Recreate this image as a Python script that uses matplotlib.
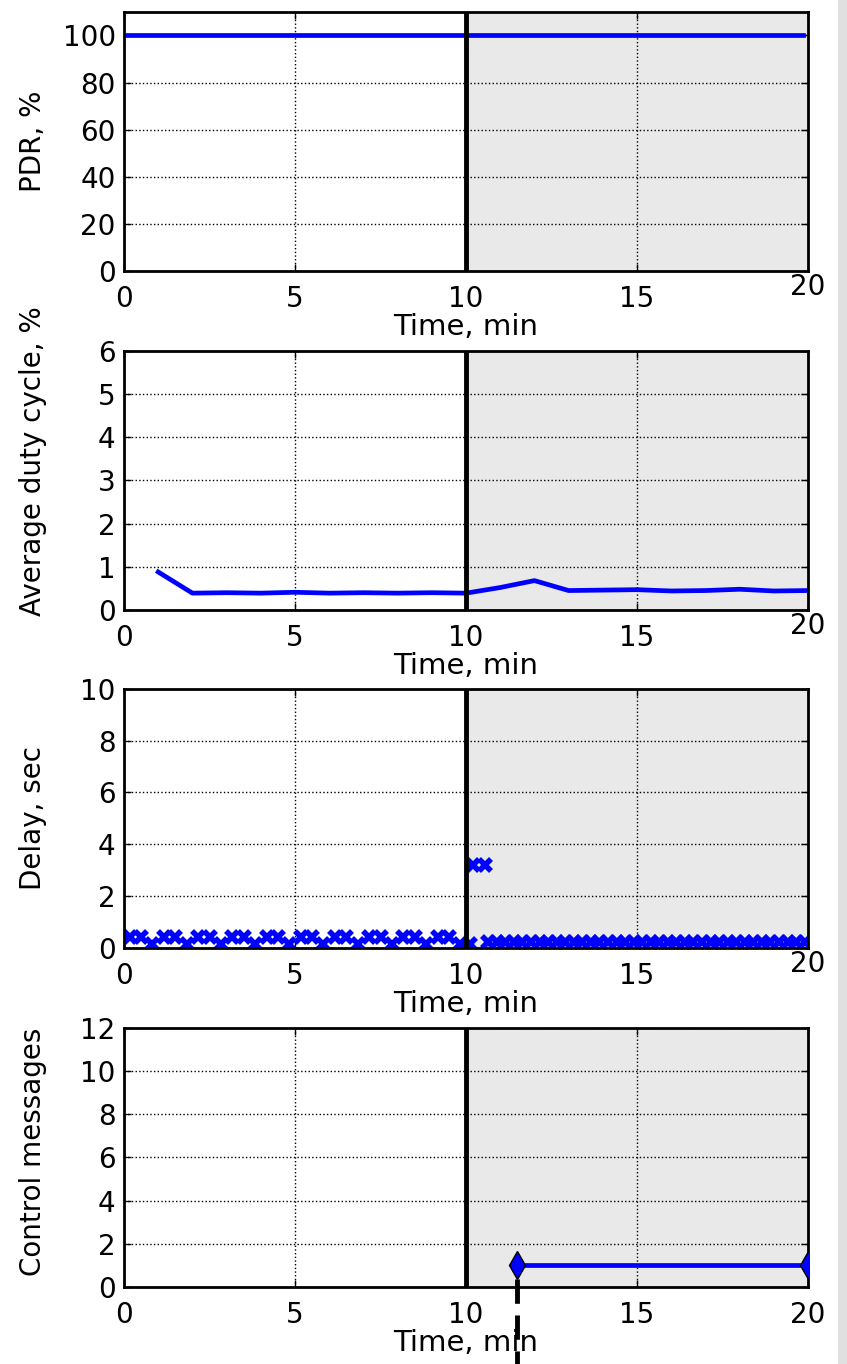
import matplotlib
matplotlib.use("Agg")
import matplotlib.pyplot as plt
from matplotlib.patches import Rectangle
from matplotlib.transforms import ScaledTranslation

# packet delivery ratio
pdr_t = [0, 5, 10, 15, 19.85]
pdr = [100, 100, 100, 100, 100]

# average duty cycle per minute
duty_t = [1, 2, 3, 4, 5, 6, 7, 8, 9, 10, 11, 12, 13, 14, 15, 16, 17, 18, 19, 20]
duty = [0.88, 0.39, 0.40, 0.39, 0.41, 0.39, 0.40, 0.39, 0.40, 0.39,
        0.52, 0.68, 0.45, 0.46, 0.47, 0.44, 0.45, 0.48, 0.44, 0.45]

# end-to-end delay samples
delay_t = [0.17, 0.5, 0.83, 1.17, 1.5, 1.83, 2.17, 2.5, 2.83, 3.17, 3.5, 3.83,
           4.17, 4.5, 4.83, 5.17, 5.5, 5.83, 6.17, 6.5, 6.83, 7.17, 7.5, 7.83,
           8.17, 8.5, 8.83, 9.17, 9.5, 9.83, 10.12, 10.2, 10.55,
           10.65, 10.9, 11.15, 11.4, 11.65, 11.9, 12.15, 12.4, 12.65, 12.9,
           13.15, 13.4, 13.65, 13.9, 14.15, 14.4, 14.65, 14.9, 15.15, 15.4,
           15.65, 15.9, 16.15, 16.4, 16.65, 16.9, 17.15, 17.4, 17.65, 17.9,
           18.15, 18.4, 18.65, 18.9, 19.15, 19.4, 19.65, 19.9]
delay = [0.42, 0.42, 0.15, 0.42, 0.42, 0.15, 0.42, 0.42, 0.15, 0.42, 0.42, 0.15,
         0.42, 0.42, 0.15, 0.42, 0.42, 0.15, 0.42, 0.42, 0.15, 0.42, 0.42, 0.15,
         0.42, 0.42, 0.15, 0.42, 0.42, 0.15, 0.15, 3.2, 3.2,
         0.22, 0.22, 0.22, 0.22, 0.22, 0.22, 0.22, 0.22, 0.22, 0.22,
         0.22, 0.22, 0.22, 0.22, 0.22, 0.22, 0.22, 0.22, 0.22, 0.22,
         0.22, 0.22, 0.22, 0.22, 0.22, 0.22, 0.22, 0.22, 0.22, 0.22,
         0.22, 0.22, 0.22, 0.22, 0.22, 0.22, 0.22, 0.22]

# control messages sent
ctrl_t = [11.5, 20]
ctrl = [1, 1]

event_t = 10
ctrl_start = 11.5

plt.rcParams['font.family'] = ['DejaVu Sans']
plt.rcParams['font.size'] = 20

fig = plt.figure(figsize=(8.47, 13.64), dpi=100)
fig.patch.set_facecolor('white')

left, width, height = 0.1464, 0.8076, 0.190
bottoms = [0.8013, 0.5528, 0.305, 0.0565]
axes = [fig.add_axes([left, b, width, height]) for b in bottoms]

ylims = [(0, 110), (0, 6), (0, 10), (0, 12)]
yticks = [[0, 20, 40, 60, 80, 100], [0, 1, 2, 3, 4, 5, 6],
          [0, 2, 4, 6, 8, 10], [0, 2, 4, 6, 8, 10, 12]]
ylabels = ['PDR, %', 'Average duty cycle, %', 'Delay, sec', 'Control messages']
ylabel_y = [0.5, 0.575, 0.5, 0.52]

for ax, yl, yt, lab, ly in zip(axes, ylims, yticks, ylabels, ylabel_y):
    ax.axvspan(event_t, 20, color='#e9e9e9', zorder=0)
    ax.axvline(event_t, color='black', lw=3.5, zorder=3)
    ax.set_xlim(0, 20)
    ax.set_ylim(*yl)
    ax.set_xticks([0, 5, 10, 15, 20])
    ax.set_yticks(yt)
    ax.grid(True, linestyle=':', color='black', lw=1)
    ax.set_axisbelow(True)
    ax.tick_params(direction='in', top=True, right=True, length=5, width=1,
                   labelsize=20)
    ax.tick_params(axis='x', pad=10)
    ax.tick_params(axis='y', pad=6)
    for s in ax.spines.values():
        s.set_linewidth(2)
        s.set_zorder(4)
    ax.set_xlabel('Time, min', fontsize=21, labelpad=0)
    ax.set_ylabel(lab, fontsize=20)
    ax.yaxis.set_label_coords(-0.113, ly)

axes[0].plot(pdr_t, pdr, color='blue', lw=3.4, zorder=2)
axes[1].plot(duty_t, duty, color='blue', lw=3.4, zorder=2)
axes[2].plot(delay_t, delay, linestyle='none', marker='x', ms=9, mew=4,
             color='blue', zorder=2)
axes[3].plot(ctrl_t, ctrl, color='blue', lw=3.4, marker='d', ms=14,
             mfc='blue', mec='black', mew=1, zorder=5)
axes[3].plot([ctrl_start, ctrl_start], [0.37, -3.6], color='black', lw=3.5,
             linestyle='--', dashes=(5, 2.4), clip_on=False, zorder=6)

fig.patches.append(Rectangle((0.9894, 0), 0.0106, 1, transform=fig.transFigure,
                             facecolor='#e0e0e0', edgecolor='none'))

fig.canvas.draw()
# the last tick label on the upper three panels sits a little higher
for ax in axes[:3]:
    lbl = ax.xaxis.get_major_ticks()[-1].label1
    lbl.set_transform(lbl.get_transform() + ScaledTranslation(0, 12 / 100, fig.dpi_scale_trans))

fig.savefig('out.png', dpi=100, facecolor='white')
